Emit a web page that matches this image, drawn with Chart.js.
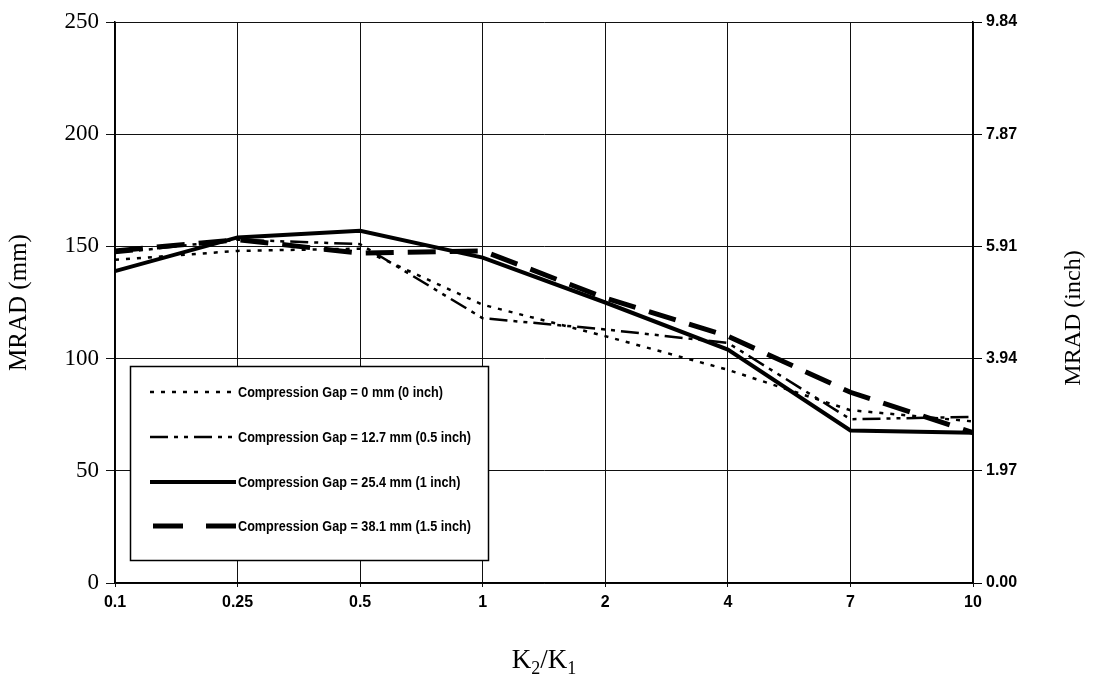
<!DOCTYPE html>
<html>
<head>
<meta charset="utf-8">
<script src="https://cdn.jsdelivr.net/npm/chart.js@4"></script>
<style>
  html, body { margin: 0; padding: 0; background: #fff; }
  #wrap { width: 1093px; height: 689px; }
</style>
</head>
<body>
<div id="wrap"><canvas id="mradChart" width="1093" height="689"></canvas></div>
<script>
// === DATA ===
const ratios = ["0.1", "0.25", "0.5", "1", "2", "4", "7", "10"];
const gap0 = [144, 148, 149, 124, 110, 95, 77, 72];        // 0 mm
const gap127 = [147, 153, 151, 118, 113, 107, 73, 74];     // 12.7 mm
const gap254 = [139, 154, 157, 145, 125, 104, 68, 67];     // 25.4 mm
const gap381 = [148, 153, 147, 148, 127, 110, 85, 67];     // 38.1 mm
const seriesLabels = [
  "Compression Gap = 0 mm (0 inch)",
  "Compression Gap = 12.7 mm (0.5 inch)",
  "Compression Gap = 25.4 mm (1 inch)",
  "Compression Gap = 38.1 mm (1.5 inch)"
];
const mmTicks = [0, 50, 100, 150, 200, 250];

const serif = "'Liberation Serif', 'Times New Roman', serif";
const sans = "'Liberation Sans', Arial, sans-serif";

// legend drawn inside the plot, like the original
const boxLegend = {
  id: 'boxLegend',
  afterDatasetsDraw(chart) {
    const c = chart.ctx;
    c.save();
    c.fillStyle = '#fff';
    c.strokeStyle = '#000';
    c.lineWidth = 1.5;
    c.fillRect(130.5, 366.5, 358, 194);
    c.strokeRect(130.5, 366.5, 358, 194);
    const rows = [392, 437, 482, 526];
    c.font = 'bold 15px ' + sans;
    // squeeze text so the longest label ends near x=471, as in the original
    const longest = Math.max(...chart.data.datasets.map(d => c.measureText(d.label).width));
    const sx = Math.min(1, 233 / longest);
    chart.data.datasets.forEach((ds, i) => {
      const y = rows[i];
      c.beginPath();
      c.setLineDash(ds.legendDash || ds.borderDash || []);
      c.lineWidth = ds.borderWidth;
      c.strokeStyle = '#000';
      c.moveTo(ds.legendDash ? 153 : 150, y);
      c.lineTo(236, y);
      c.stroke();
      c.setLineDash([]);
      c.save();
      c.translate(238, y + 1);
      c.scale(sx, 1);
      c.fillStyle = '#000';
      c.textBaseline = 'middle';
      c.fillText(ds.label, 0, 0);
      c.restore();
    });
    c.restore();
  },
  afterDraw(chart) {
    const c = chart.ctx;
    const area = chart.chartArea;
    c.save();
    c.fillStyle = '#000';
    // right axis title, read bottom to top
    c.translate(1074, 318);
    c.rotate(-Math.PI / 2);
    c.font = '24px ' + serif;
    c.textAlign = 'center';
    c.textBaseline = 'middle';
    c.fillText('MRAD (inch)', 0, 0);
    c.restore();

    // x title with subscripts: K2/K1
    c.save();
    c.fillStyle = '#000';
    c.textBaseline = 'alphabetic';
    const big = '27px ' + serif, small = '18px ' + serif;
    const parts = [['K', big, 0], ['2', small, 6], ['/K', big, 0], ['1', small, 6]];
    let w = 0;
    parts.forEach(p => { c.font = p[1]; w += c.measureText(p[0]).width; });
    let x = (area.left + area.right) / 2 - w / 2;
    parts.forEach(p => {
      c.font = p[1];
      c.fillText(p[0], x, 668 + p[2]);
      x += c.measureText(p[0]).width;
    });
    c.restore();
  }
};

const lineStyle = { borderColor: '#000', backgroundColor: '#000', fill: false, tension: 0, pointRadius: 0 };

const ctx = document.getElementById('mradChart').getContext('2d');
const mradChart = new Chart(ctx, {
  type: 'line',
  data: {
    labels: ratios,
    datasets: [
      { ...lineStyle, label: seriesLabels[0], data: gap0, borderWidth: 2.5, borderDash: [4, 7] },
      { ...lineStyle, label: seriesLabels[1], data: gap127, borderWidth: 2.5, borderDash: [18, 6, 4, 6, 4, 6] },
      { ...lineStyle, label: seriesLabels[2], data: gap254, borderWidth: 4 },
      { ...lineStyle, label: seriesLabels[3], data: gap381, borderWidth: 5, borderDash: [28, 14], legendDash: [30, 23] }
    ]
  },
  options: {
    responsive: false,
    animation: false,
    layout: { padding: { top: 22, left: 0, right: 0, bottom: 0 } },
    plugins: { legend: { display: false }, tooltip: { enabled: false } },
    scales: {
      x: {
        offset: false,
        grid: { color: '#111', lineWidth: 1, tickLength: 4 },
        border: { color: '#000', width: 1.5 },
        ticks: { color: '#000', font: { family: sans, size: 16, weight: 'bold' }, padding: 6, maxRotation: 0 },
        afterFit: s => { s.height = 106; }
      },
      y: {
        min: 0, max: 250,
        afterBuildTicks: s => { s.ticks = mmTicks.map(v => ({ value: v })); },
        grid: { color: '#111', lineWidth: 1, tickLength: 9 },
        border: { color: '#000', width: 1.5 },
        ticks: { color: '#000', font: { family: serif, size: 23 }, padding: 7 },
        title: { display: true, text: 'MRAD (mm)', color: '#000', font: { family: serif, size: 25 }, padding: { bottom: 2 } },
        afterFit: s => { s.width = 115; }
      },
      y2: {
        position: 'right',
        min: 0, max: 250,
        afterBuildTicks: s => { s.ticks = mmTicks.map(v => ({ value: v })); },
        grid: { drawOnChartArea: false, color: '#000', tickLength: 9 },
        border: { color: '#000', width: 1.5 },
        ticks: { color: '#000', font: { family: sans, size: 16, weight: 'bold' }, padding: 4,
                 callback: v => (v / 25.4).toFixed(2) },
        afterFit: s => { s.width = 120; }
      }
    }
  },
  plugins: [boxLegend]
});
</script>
</body>
</html>
